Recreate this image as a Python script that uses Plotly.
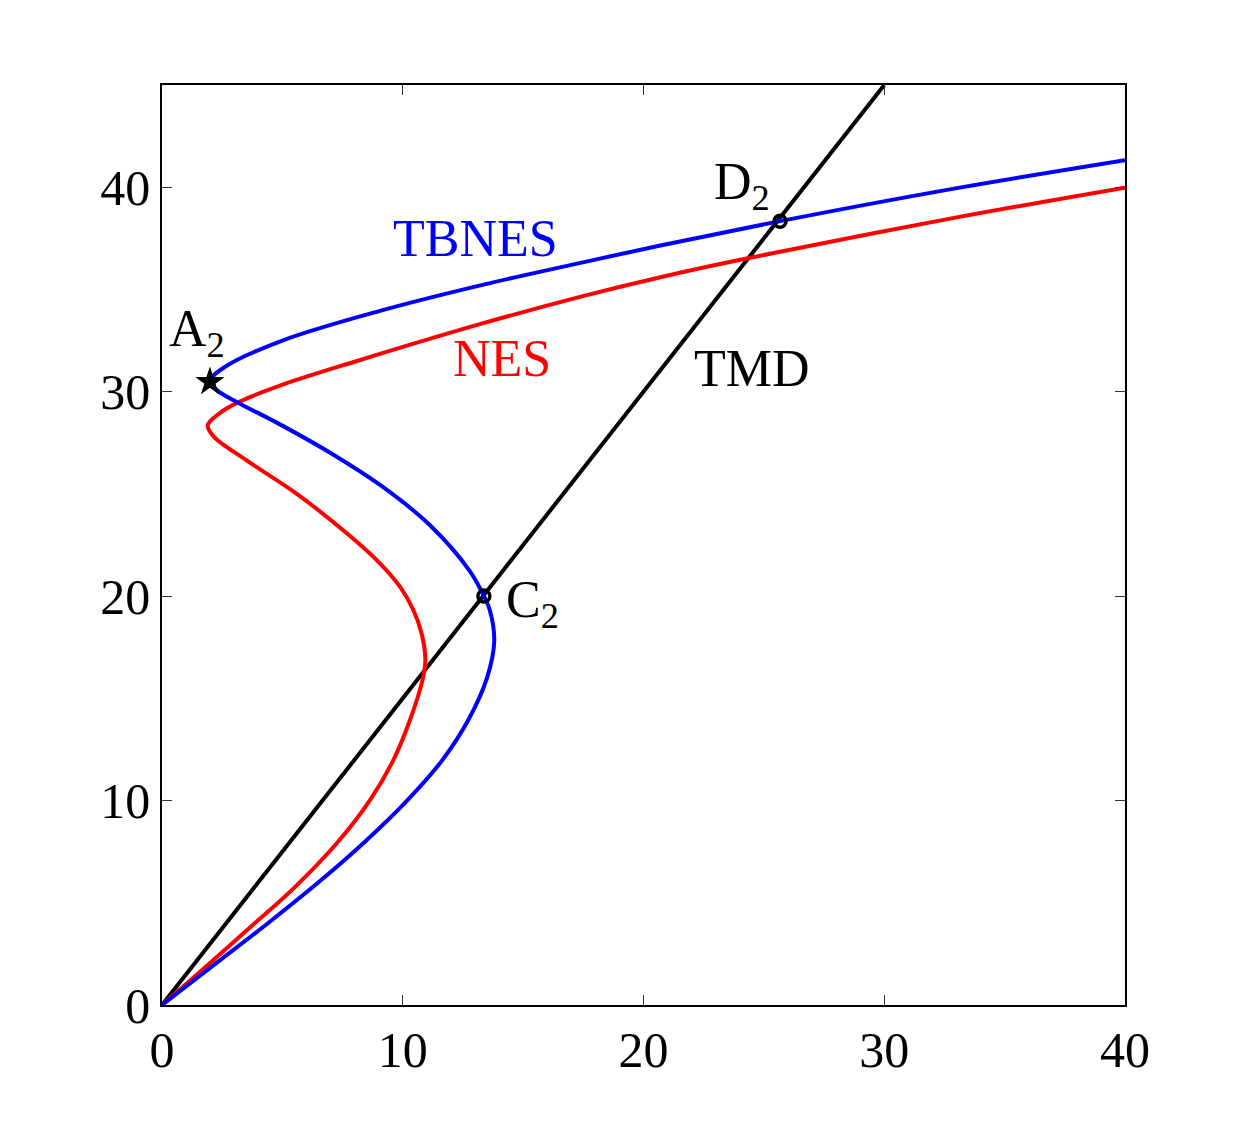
import plotly.graph_objects as go

# TBNES (blue) curve points (ordered along the curve)
tbnes_x = [0, 2.2, 4.4, 6.5, 8.44, 10.18, 11.66, 12.75, 13.5, 13.8, 13.62, 13.37, 12.8, 11.1,
           9.1, 7.0, 4.9, 3.1, 2.3, 1.97, 2.6, 5.0, 9.2, 13.4, 17.0, 20.7, 25.67, 32.9, 40]
tbnes_y = [0, 2.0, 4.0, 6.0, 8.0, 10.0, 12.0, 14.0, 16.0, 17.8, 19.3, 20.0, 21.2, 23.5,
           25.4, 27.0, 28.4, 29.5, 30.05, 30.5, 31.2, 32.5, 34.0, 35.25, 36.2, 37.15, 38.34, 39.93, 41.32]

# NES (red) curve points
nes_x = [0, 1.95, 3.85, 5.39, 7.26, 8.64, 9.61, 10.30, 10.82, 10.94, 10.78, 10.44, 9.89, 8.92,
         7.7, 5.6, 3.5, 2.15, 1.9, 2.4, 3.2, 4.9, 8.1, 13.2, 17.4, 20.7, 24.42, 32.9, 40]
nes_y = [0, 2.0, 4.0, 5.62, 7.91, 10.02, 11.98, 13.94, 15.89, 16.87, 18.18, 19.32, 20.45, 21.76,
         23.05, 25.0, 26.65, 27.8, 28.35, 28.95, 29.5, 30.3, 31.5, 33.3, 34.65, 35.6, 36.55, 38.5, 39.98]

# TMD (black) line
tmd_x = [0, 30.0]
tmd_y = [0, 45.0]

# special points
star_x = [1.99]
star_y = [30.48]
circle_x = [13.37, 25.67]
circle_y = [20.0, 38.34]

ticks = [0, 10, 20, 30, 40]

FONT = "Liberation Serif"

fig = go.Figure()
fig.add_trace(go.Scatter(x=tmd_x, y=tmd_y, mode="lines",
                         line=dict(color="black", width=4), showlegend=False))
fig.add_trace(go.Scatter(x=nes_x, y=nes_y, mode="lines",
                         line=dict(color="#ff0000", width=4, shape="spline", smoothing=1.0),
                         showlegend=False))
fig.add_trace(go.Scatter(x=tbnes_x, y=tbnes_y, mode="lines",
                         line=dict(color="#0000ff", width=4, shape="spline", smoothing=1.0),
                         showlegend=False))
fig.add_trace(go.Scatter(x=circle_x, y=circle_y, mode="markers",
                         marker=dict(symbol="circle-open", size=12, color="black",
                                     line=dict(width=3.5, color="black")),
                         showlegend=False))
fig.add_trace(go.Scatter(x=star_x, y=star_y, mode="markers",
                         marker=dict(symbol="star", size=22, color="black"),
                         showlegend=False))

labels = [
    ("TBNES", 13.04, 37.5, "#0000ff"),
    ("NES", 14.13, 31.64, "#ff0000"),
    ("TMD", 24.5, 31.15, "black"),
    ("A<sub>2</sub>", 1.45, 32.9, "black"),
    ("D<sub>2</sub>", 24.1, 40.1, "black"),
    ("C<sub>2</sub>", 15.4, 19.65, "black"),
]
for text, x, y, c in labels:
    fig.add_annotation(x=x, y=y, text=text, showarrow=False,
                       font=dict(family=FONT, size=52, color=c),
                       xanchor="center", yanchor="middle")

axis_common = dict(
    showgrid=False, zeroline=False, showline=True, linecolor="black", linewidth=1.5,
    mirror="ticks", ticks="inside", ticklen=10, tickwidth=1.2, tickcolor="#333333",
    tickmode="array", tickvals=ticks, ticktext=[str(t) for t in ticks],
    tickfont=dict(family=FONT, size=50, color="black"),
)
fig.update_xaxes(range=[0, 40], **axis_common)
fig.update_yaxes(range=[0, 45], **axis_common)

fig.update_layout(
    width=1242, height=1132,
    margin=dict(l=162, r=117, t=85, b=127),
    paper_bgcolor="white", plot_bgcolor="white",
)

fig.write_html("out.html")
